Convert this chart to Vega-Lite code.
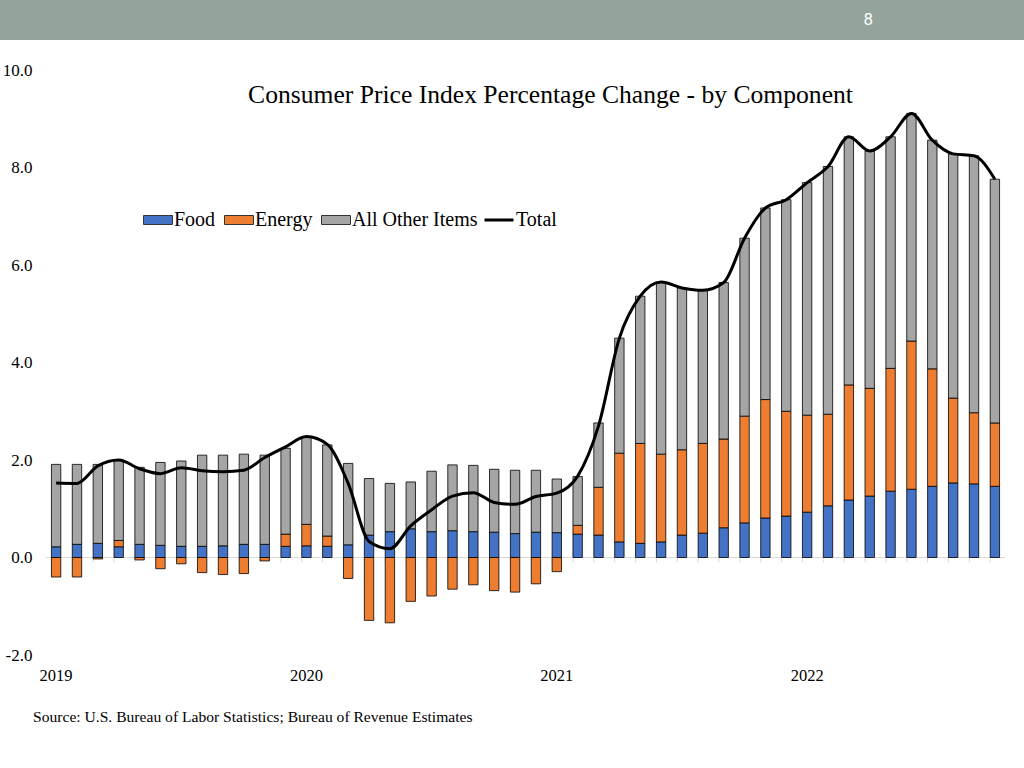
{
  "$schema": "https://vega.github.io/schema/vega-lite/v6.json",
  "padding": 0,
  "background": "white",
  "config": {"view": {"stroke": null}, "font": "Liberation Serif"},
  "datasets": {
    "cpi": [
      {"month": "2019-01", "Food": 0.22, "Energy": -0.40, "Other": 1.69, "Total": 1.53},
      {"month": "2019-02", "Food": 0.27, "Energy": -0.40, "Other": 1.64, "Total": 1.52},
      {"month": "2019-03", "Food": 0.29, "Energy": -0.03, "Other": 1.62, "Total": 1.88},
      {"month": "2019-04", "Food": 0.22, "Energy": 0.13, "Other": 1.65, "Total": 2.00},
      {"month": "2019-05", "Food": 0.27, "Energy": -0.05, "Other": 1.58, "Total": 1.82},
      {"month": "2019-06", "Food": 0.25, "Energy": -0.23, "Other": 1.70, "Total": 1.72},
      {"month": "2019-07", "Food": 0.23, "Energy": -0.13, "Other": 1.75, "Total": 1.84},
      {"month": "2019-08", "Food": 0.23, "Energy": -0.31, "Other": 1.87, "Total": 1.78},
      {"month": "2019-09", "Food": 0.24, "Energy": -0.35, "Other": 1.86, "Total": 1.76},
      {"month": "2019-10", "Food": 0.27, "Energy": -0.33, "Other": 1.85, "Total": 1.79},
      {"month": "2019-11", "Food": 0.27, "Energy": -0.07, "Other": 1.83, "Total": 2.05},
      {"month": "2019-12", "Food": 0.23, "Energy": 0.25, "Other": 1.76, "Total": 2.27},
      {"month": "2020-01", "Food": 0.24, "Energy": 0.44, "Other": 1.79, "Total": 2.48},
      {"month": "2020-02", "Food": 0.23, "Energy": 0.21, "Other": 1.87, "Total": 2.32},
      {"month": "2020-03", "Food": 0.26, "Energy": -0.43, "Other": 1.67, "Total": 1.52},
      {"month": "2020-04", "Food": 0.46, "Energy": -1.29, "Other": 1.16, "Total": 0.33},
      {"month": "2020-05", "Food": 0.53, "Energy": -1.34, "Other": 0.99, "Total": 0.18},
      {"month": "2020-06", "Food": 0.59, "Energy": -0.90, "Other": 0.96, "Total": 0.65},
      {"month": "2020-07", "Food": 0.53, "Energy": -0.79, "Other": 1.24, "Total": 0.98},
      {"month": "2020-08", "Food": 0.55, "Energy": -0.65, "Other": 1.35, "Total": 1.26},
      {"month": "2020-09", "Food": 0.53, "Energy": -0.56, "Other": 1.36, "Total": 1.33},
      {"month": "2020-10", "Food": 0.52, "Energy": -0.68, "Other": 1.29, "Total": 1.13},
      {"month": "2020-11", "Food": 0.49, "Energy": -0.71, "Other": 1.30, "Total": 1.09},
      {"month": "2020-12", "Food": 0.52, "Energy": -0.54, "Other": 1.27, "Total": 1.25},
      {"month": "2021-01", "Food": 0.51, "Energy": -0.29, "Other": 1.10, "Total": 1.32},
      {"month": "2021-02", "Food": 0.48, "Energy": 0.18, "Other": 1.00, "Total": 1.67},
      {"month": "2021-03", "Food": 0.46, "Energy": 0.98, "Other": 1.32, "Total": 2.70},
      {"month": "2021-04", "Food": 0.32, "Energy": 1.82, "Other": 2.36, "Total": 4.50},
      {"month": "2021-05", "Food": 0.29, "Energy": 2.05, "Other": 3.02, "Total": 5.36},
      {"month": "2021-06", "Food": 0.32, "Energy": 1.80, "Other": 3.53, "Total": 5.65},
      {"month": "2021-07", "Food": 0.46, "Energy": 1.75, "Other": 3.32, "Total": 5.53},
      {"month": "2021-08", "Food": 0.50, "Energy": 1.84, "Other": 3.14, "Total": 5.48},
      {"month": "2021-09", "Food": 0.61, "Energy": 1.82, "Other": 3.21, "Total": 5.64},
      {"month": "2021-10", "Food": 0.71, "Energy": 2.19, "Other": 3.65, "Total": 6.55},
      {"month": "2021-11", "Food": 0.81, "Energy": 2.43, "Other": 3.93, "Total": 7.17},
      {"month": "2021-12", "Food": 0.85, "Energy": 2.15, "Other": 4.34, "Total": 7.34},
      {"month": "2022-01", "Food": 0.93, "Energy": 1.99, "Other": 4.77, "Total": 7.69},
      {"month": "2022-02", "Food": 1.06, "Energy": 1.88, "Other": 5.08, "Total": 8.02},
      {"month": "2022-03", "Food": 1.18, "Energy": 2.36, "Other": 5.09, "Total": 8.63},
      {"month": "2022-04", "Food": 1.26, "Energy": 2.21, "Other": 4.87, "Total": 8.34},
      {"month": "2022-05", "Food": 1.36, "Energy": 2.52, "Other": 4.75, "Total": 8.63},
      {"month": "2022-06", "Food": 1.40, "Energy": 3.04, "Other": 4.67, "Total": 9.11},
      {"month": "2022-07", "Food": 1.46, "Energy": 2.41, "Other": 4.69, "Total": 8.56},
      {"month": "2022-08", "Food": 1.53, "Energy": 1.74, "Other": 5.01, "Total": 8.28},
      {"month": "2022-09", "Food": 1.51, "Energy": 1.46, "Other": 5.27, "Total": 8.24},
      {"month": "2022-10", "Food": 1.46, "Energy": 1.30, "Other": 5.00, "Total": 7.76}
    ]
  },
  "title": {
    "text": "Source: U.S. Bureau of Labor Statistics; Bureau of Revenue Estimates",
    "orient": "bottom", "anchor": "start", "frame": "bounds",
    "dx": 33, "offset": 26, "fontSize": 15.6, "font": "Liberation Serif",
    "fontWeight": "normal", "color": "black"
  },
  "spacing": 21,
  "vconcat": [
    {
      "width": 978,
      "height": 40,
      "data": {"values": [{"page": "8"}]},
      "layer": [
        {
          "mark": {"type": "rect", "fill": "#94a39b", "clip": false},
          "encoding": {
            "x": {"datum": 0, "type": "quantitative", "scale": {"domain": [0, 1], "range": [-46, 978], "nice": false, "zero": false}, "axis": null},
            "x2": {"datum": 1},
            "y": {"datum": 0, "type": "quantitative", "scale": {"domain": [0, 1], "nice": false, "zero": false}, "axis": null},
            "y2": {"datum": 1}
          }
        },
        {
          "mark": {"type": "text", "color": "white", "font": "Roboto", "fontSize": 17, "align": "center", "baseline": "middle"},
          "encoding": {
            "x": {"datum": 0.848, "type": "quantitative"},
            "y": {"datum": 0.5, "type": "quantitative"},
            "text": {"field": "page"}
          }
        }
      ]
    },
    {
      "width": 959,
      "height": 585,
      "data": {"name": "cpi"},
      "title": {
        "text": "Consumer Price Index Percentage Change - by Component",
        "font": "Liberation Serif", "fontSize": 25.6, "fontWeight": "normal",
        "color": "black", "anchor": "middle", "dx": 25, "offset": -48
      },
      "layer": [
        {
          "data": {"values": [{}]},
          "mark": {"type": "rule", "color": "#d9d9d9", "strokeWidth": 1},
          "encoding": {"y": {"datum": 0, "type": "quantitative"}}
        },
        {
          "mark": {"type": "rule", "color": "#d9d9d9", "strokeWidth": 1},
          "encoding": {
            "x": {"field": "month", "type": "ordinal", "bandPosition": 0},
            "y": {"datum": 0, "type": "quantitative"},
            "y2": {"datum": -0.1}
          }
        },
        {
          "transform": [
            {"fold": ["Food", "Energy", "Other"], "as": ["component", "value"]},
            {"window": [{"op": "row_number", "as": "stackrank"}], "groupby": ["month"]}
          ],
          "mark": {"type": "bar", "stroke": "black", "strokeWidth": 0.8},
          "encoding": {
            "x": {
              "field": "month", "type": "ordinal",
              "scale": {"paddingInner": 0.55, "paddingOuter": 0.26},
              "axis": {
                "values": ["2019-01", "2020-01", "2021-01", "2022-01"],
                "labelExpr": "slice(datum.value, 0, 4)",
                "bandPosition": 0.5, "labelAlign": "center",
                "title": null, "domain": false, "ticks": false, "labelAngle": 0,
                "labelPadding": 20, "labelFontSize": 16.5, "labelFont": "Liberation Serif",
                "labelColor": "black", "grid": false
              }
            },
            "y": {
              "field": "value", "type": "quantitative",
              "scale": {"domain": [-2, 10], "nice": false},
              "axis": {
                "values": [-2, 0, 2, 4, 6, 8, 10],
                "labelExpr": "replace(format(datum.value, '.1f'), '\u2212', '-')",
                "title": null, "domain": false, "ticks": false, "tickSize": 0,
                "labelPadding": 14, "minExtent": 46, "gridColor": "#d9d9d9",
                "labelFontSize": 17, "labelFont": "Liberation Serif", "labelColor": "black"
              }
            },
            "order": {"field": "stackrank", "type": "quantitative", "sort": "ascending"},
            "fill": {
              "field": "component", "type": "nominal",
              "sort": ["Food", "Energy", "Other"],
              "scale": {"domain": ["Food", "Energy", "Other"], "range": ["#4472C4", "#ED7D31", "#A5A5A5"]},
              "legend": {
                "orient": "none", "legendX": 102, "legendY": 210, "direction": "horizontal",
                "title": null, "padding": 0,
                "symbolType": "M-2,-0.62H2V0.62H-2Z", "symbolSize": 210,
                "symbolStrokeColor": "#333333", "symbolStrokeWidth": 1,
                "labelFontSize": 20, "labelFont": "Liberation Serif", "labelColor": "black",
                "labelOffset": 6, "columnPadding": 6,
                "labelExpr": "datum.label == 'Other' ? 'All Other Items' : datum.label"
              }
            }
          }
        },
        {
          "mark": {"type": "line", "interpolate": "monotone", "strokeWidth": 3},
          "encoding": {
            "x": {"field": "month", "type": "ordinal"},
            "y": {"field": "Total", "type": "quantitative"},
            "stroke": {
              "datum": "Total", "type": "nominal",
              "scale": {"range": ["black"]},
              "legend": {
                "orient": "none", "legendX": 437, "legendY": 204, "title": null, "padding": 0,
                "symbolType": "stroke", "symbolSize": 841, "symbolStrokeWidth": 3,
                "labelFontSize": 20, "labelFont": "Liberation Serif", "labelColor": "black",
                "labelOffset": 1
              }
            }
          }
        }
      ]
    }
  ]
}
